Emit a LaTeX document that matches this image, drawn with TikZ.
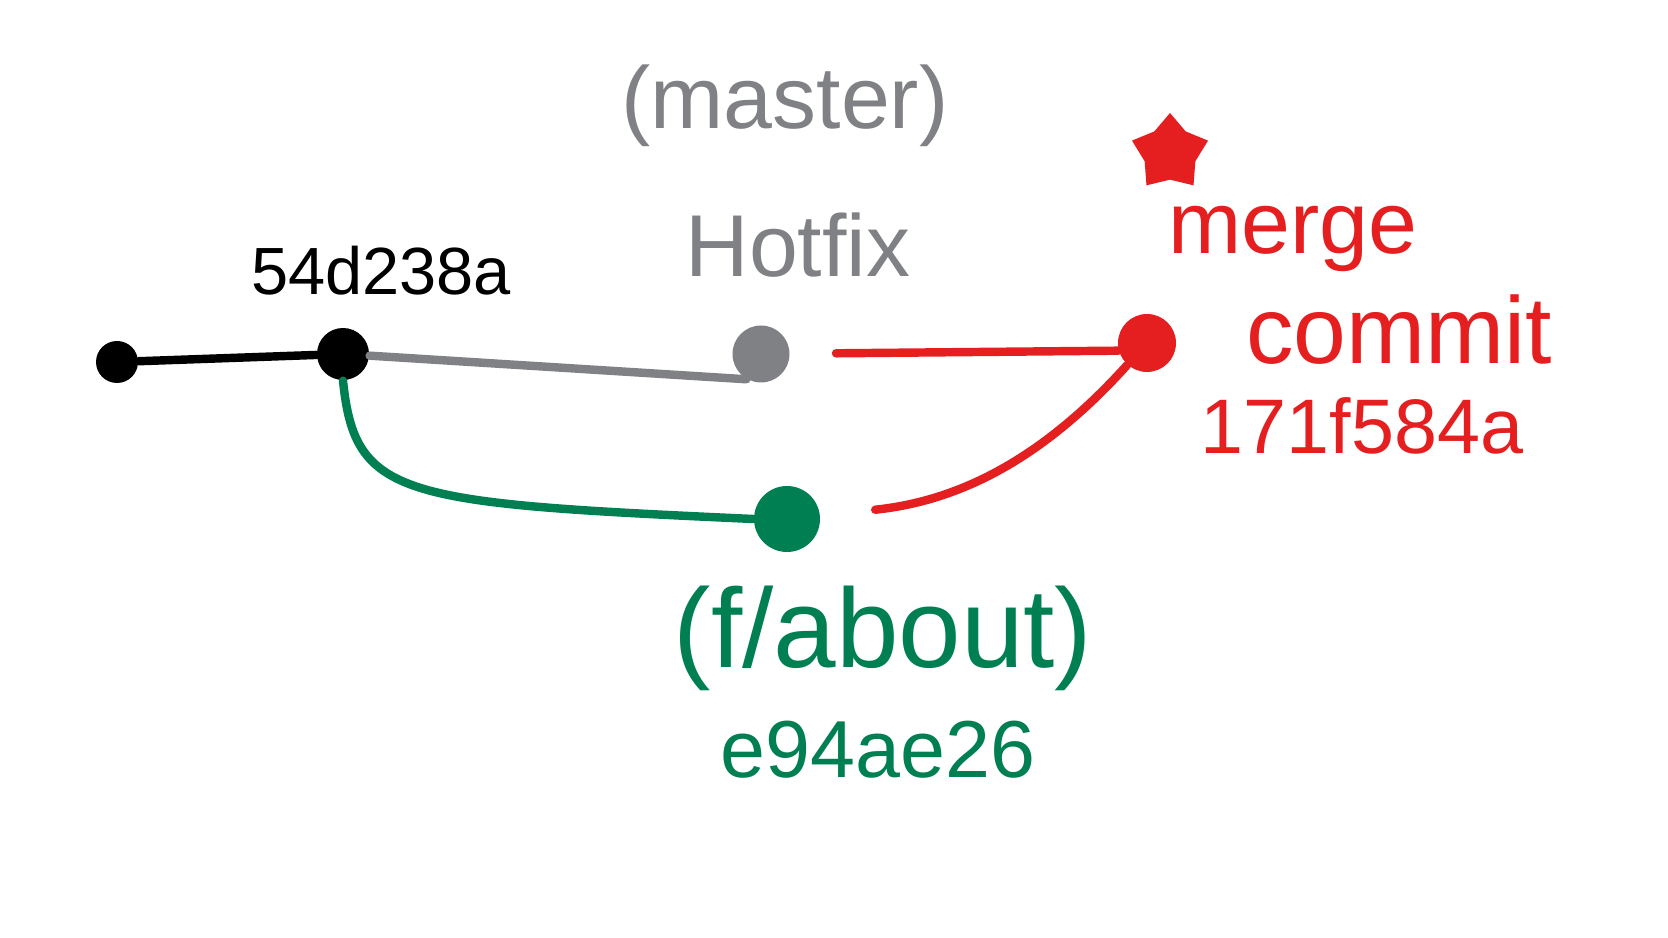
\documentclass[tikz,border=0pt]{standalone}
\usepackage{fontspec}
\setmainfont{Liberation Sans}
\usetikzlibrary{shapes.geometric}

\definecolor{gris}{RGB}{128,129,133}
\definecolor{verde}{RGB}{0,128,82}
\definecolor{rojo}{RGB}{229,30,32}

\tikzset{
  punto/.style={circle, fill=#1, inner sep=0pt},
  rama/.style={line width=2.4pt, line cap=round, draw=#1},
  etiqueta/.style={inner sep=0pt, text=#1}
}

\begin{document}
\begin{tikzpicture}
    \useasboundingbox (0,0) rectangle (16.68,9.38);

    % Commits
    \node[punto=black, minimum size=0.42cm] (c1) at (1.17,5.76) {};
    \node[punto=black, minimum size=0.52cm] (base) at (3.43,5.84) {};
    \node[punto=gris, minimum size=0.57cm] (hotfix) at (7.61,5.84) {};
    \node[punto=verde, minimum size=0.66cm] (about) at (7.87,4.19) {};
    \node[punto=rojo, minimum size=0.58cm] (merge) at (11.47,5.95) {};

    % Ramas
    \draw[rama=black] (c1) -- (base);
    \draw[rama=gris] (base) -- (hotfix.240);
    \draw[rama=verde] (base.south) .. controls (3.55,4.4) and (4.0,4.35) .. (about.west);
    \draw[rama=rojo, shorten <=0.75cm] (hotfix.center) -- (merge.195);
    \draw[rama=rojo, shorten <=0.55cm] (about) to[out=6,in=-132] (merge);

    % Etiquetas
    \node[etiqueta=black, font=\fontsize{19}{23}\selectfont] (hashbase) at (3.81,6.67) {54d238a};
    \node[etiqueta=gris, font=\fontsize{25}{30}\selectfont] (master) at (7.85,8.32) {(master)};
    \node[etiqueta=gris, font=\fontsize{25}{30}\selectfont] (nombre) at (7.98,6.93) {Hotfix};
    \node[star, star points=5, fill=rojo, minimum size=0.8cm, inner sep=0pt] (estrella) at (11.70,7.85) {};
    \node[etiqueta=rojo, font=\fontsize{25}{30}\selectfont] (mergetxt) at (12.93,6.99) {merge};
    \node[etiqueta=rojo, font=\fontsize{27}{32}\selectfont] (committxt) at (13.99,6.08) {commit};
    \node[etiqueta=rojo, font=\fontsize{22}{26}\selectfont] (hashmerge) at (13.62,5.12) {171f584a};
    \node[etiqueta=verde, font=\fontsize{32}{38}\selectfont] (rama) at (8.83,3.00) {(f/about)};
    \node[etiqueta=verde, font=\fontsize{23}{28}\selectfont] (hashabout) at (8.78,1.88) {e94ae26};
\end{tikzpicture}
\end{document}
